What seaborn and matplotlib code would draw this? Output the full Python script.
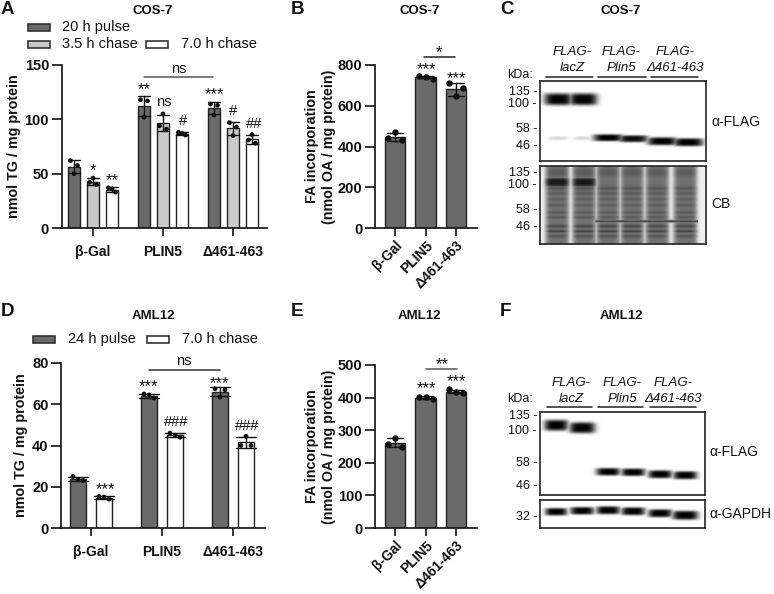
import numpy as np
import pandas as pd
import matplotlib
matplotlib.use('Agg')
import matplotlib.pyplot as plt
from matplotlib.patches import Rectangle
from matplotlib.lines import Line2D
import seaborn as sns

sns.set_theme(style='ticks')
plt.rcParams['font.family'] = ['Liberation Sans', 'DejaVu Sans']
plt.rcParams['axes.linewidth'] = 1.2

W, H = 774, 594
DARK, LIGHT, WHITE = '#6a6a6a', '#c9c9c9', '#ffffff'

groups = ['β-Gal', 'PLIN5', 'Δ461-463']

# Panel A, replicates as left / middle / right dot
a_conditions = ['20 h pulse', '3.5 h chase', '7.0 h chase']
a_pulse = [[62, 50, 57.5], [118, 102, 117], [114, 104, 113]]
a_chase35 = [[42, 46, 40], [94, 105, 91], [97, 85, 93]]
a_chase70 = [[37, 36, 33], [88, 87, 85.5], [81, 86, 78]]
a_ticks = [0, 50, 100, 150]

# Panel B
b_values = [[440, 470, 432], [745, 742, 733], [710, 647, 686]]
b_ticks = [0, 200, 400, 600, 800]

# Panel D
d_conditions = ['24 h pulse', '7.0 h chase']
d_pulse = [[25, 23.5, 23], [65, 64.5, 63], [67.5, 63.5, 67]]
d_chase = [[15.3, 15, 14], [46, 45, 44], [40, 44.5, 40]]
d_ticks = [0, 20, 40, 60, 80]

# Panel E
e_values = [[258, 277, 250], [402, 402, 396], [425, 416, 415]]
e_ticks = [0, 100, 200, 300, 400, 500]

# Blots: lane centres and (lane, y, half width, half height, darkness)
c_lanes = [558, 583, 608, 633, 662, 688]
c_flag_bands = [(0, 99, 14, 6, 1), (1, 99, 14, 6, 1),
                (0, 138, 10, 2, .14), (1, 138, 10, 2, .14),
                (2, 137.5, 15, 3.5, 1), (3, 138.5, 15, 3.5, .95),
                (4, 141, 15, 4, 1), (5, 142, 15, 4, 1)]
c_stain_lanes = [557, 584, 608, 632, 657, 685]
c_stain_bands = [(172, 4, .08), (188, 2, .1), (193, 1.5, .08), (199, 1.5, .08), (205, 1.5, .07),
                 (212, 1.5, .08), (217, 1.2, .1), (226, 1.5, .15), (231, 1.2, .18), (236, 1.5, .1)]
f_lanes = [556, 582, 608, 633, 660, 685]
f_flag_bands = [(0, 425, 12, 5.5, 1), (1, 427.5, 13, 5.5, 1),
                (2, 471.5, 12, 3.8, 1), (3, 472, 12, 3.8, 1),
                (4, 474, 12, 4, 1), (5, 475, 12, 4, 1)]
f_gapdh_bands = [(0, 511.5, 11, 3.8, 1), (1, 510.5, 12, 3.8, 1), (2, 510, 12, 4, 1),
                 (3, 511, 12, 4, 1), (4, 513, 12, 4, 1), (5, 515, 13, 4.5, 1)]


def long_table(names, conditions, series):
    rows = []
    for cond, values in zip(conditions, series):
        for name, reps in zip(names, values):
            for v in reps:
                rows.append({'group': name, 'condition': cond, 'value': v})
    return pd.DataFrame(rows)


def px_axes(left, top, right, bottom):
    return fig.add_axes([left / W, 1 - bottom / H, (right - left) / W, (bottom - top) / H])


def label(x, y, text, size=10, weight='normal', ha='center', va='center', style='normal', color='#111111'):
    fig.text(x / W, 1 - y / H, text, fontsize=size, fontweight=weight, ha=ha, va=va,
             fontstyle=style, color=color)


def sig_marks(marks):
    # stars sit high in their glyph box, so they are pushed down a little
    for text, x, y in marks:
        if '*' in text:
            label(x, y + 3, text, size=12)
        else:
            label(x, y, text, size=10.5)


def bracket(x0, x1, y, color='#555555'):
    fig.add_artist(Line2D([x0 / W, x1 / W], [1 - y / H, 1 - y / H], color=color, lw=1.1))


def legend_item(x0, x1, y, text, text_x, color):
    fig.add_artist(Rectangle((x0 / W, 1 - (y + 3.5) / H), (x1 - x0) / W, 7 / H, facecolor=color,
                             edgecolor='#333333', lw=1.2, transform=fig.transFigure))
    label(text_x, y, text, size=10.5, ha='left')


def spread_dots(ax, fan, scale=1.0):
    # fan the three replicates sideways, the way the original arranges its dots
    for coll in ax.collections:
        offs = np.array(coll.get_offsets())
        if len(offs) == 0:
            continue
        center = np.round(offs[:, 0].mean())
        offs[:, 0] = center + (offs[:, 0] - center) * scale + fan * np.array([-1, 0, 1])[:len(offs)]
        coll.set_offsets(offs)


def style_axes(ax, ticks, ylabel, x0, step, left, right, top_val, pad, rotate=False):
    ax.set_xlim((left - x0) / step, (right - x0) / step)
    ax.set_ylim(0, top_val)
    ax.set_yticks(ticks)
    ax.set_xlabel('')
    ax.set_ylabel(ylabel, fontsize=10.3, fontweight='bold', labelpad=pad, linespacing=1.2, color='#111111')
    sns.despine(ax=ax)
    ax.patch.set_alpha(0)
    for side in ['left', 'bottom']:
        ax.spines[side].set_color('#111111')
    ax.tick_params(axis='y', length=7.5, width=1.2, color='#111111', labelcolor='#111111', pad=1.5)
    ax.tick_params(axis='x', length=6, width=1.2, color='#111111', labelcolor='#111111',
                   pad=1.5 if rotate else 6)
    for t in ax.get_yticklabels():
        t.set_fontsize(10.5)
        t.set_fontweight('bold')
    for t in ax.get_xticklabels():
        t.set_fontsize(10)
        t.set_fontweight('bold')
        if rotate:
            t.set_rotation(45)
            t.set_ha('right')
            t.set_rotation_mode('anchor')


def grouped_panel(ax, df, conditions, colors, width, gap, dot_scale, fan, size):
    palette = dict(zip(conditions, colors))
    sns.barplot(data=df, x='group', y='value', hue='condition', order=groups, hue_order=conditions,
                palette=palette, width=width, gap=gap, edgecolor='#222222', linewidth=1, errorbar='sd',
                capsize=.55, err_kws={'color': '#111111', 'linewidth': 1}, saturation=1, legend=False, ax=ax)
    sns.stripplot(data=df, x='group', y='value', hue='condition', order=groups, hue_order=conditions,
                  palette={c: '#111111' for c in conditions}, dodge=True, jitter=False, size=size,
                  legend=False, ax=ax)
    spread_dots(ax, fan, dot_scale)


def simple_panel(ax, values, fan, size):
    df = long_table(groups, ['all'], [values])
    sns.barplot(data=df, x='group', y='value', order=groups, color=DARK, width=.656, edgecolor='#222222',
                linewidth=1, errorbar='sd', capsize=.5, err_kws={'color': '#111111', 'linewidth': 1},
                saturation=1, ax=ax)
    sns.stripplot(data=df, x='group', y='value', order=groups, color='#111111', jitter=False, size=size, ax=ax)
    spread_dots(ax, fan)


def blot_panel(box, lanes, bands):
    x0, y0, x1, y1 = box
    xs, ys = np.meshgrid(np.arange(x0, x1, .5), np.arange(y0, y1, .5))
    dark = np.zeros_like(xs, dtype=float)
    for lane, y, hw, hh, level in bands:
        blob = level * np.exp(-((xs - lanes[lane]) / hw) ** 4 - ((ys - y) / hh) ** 4)
        dark = np.maximum(dark, blob)
    ax = px_axes(x0, y0, x1, y1)
    ax.imshow(1 - dark, cmap='gray', vmin=0, vmax=1, extent=[x0, x1, y1, y0], aspect='auto')
    finish_blot(ax)


def stain_panel(box, lanes, stain):
    x0, y0, x1, y1 = box
    xs, ys = np.meshgrid(np.arange(x0, x1, .5), np.arange(y0, y1, .5))
    mask = np.zeros_like(xs, dtype=float)
    for cx in lanes:
        mask = np.maximum(mask, np.exp(-((xs - cx) / 12) ** 6))
    profile = np.full_like(ys, .5, dtype=float)
    for y, hh, s in stain:
        profile = profile + s * np.exp(-((ys - y) / hh) ** 2)
    level = .06 + mask * profile
    # continuous Plin5 band on the right four lanes, lacZ band on the left two
    level = np.maximum(level, .75 * np.exp(-((ys - 221) / 1.7) ** 2) * (xs > 595) * (xs < 698))
    for cx in lanes[:2]:
        level = np.maximum(level, .9 * np.exp(-((xs - cx) / 12.5) ** 6 - ((ys - 182) / 5.5) ** 4))
    ax = px_axes(x0, y0, x1, y1)
    ax.imshow(1 - level, cmap='gray', vmin=0, vmax=1, extent=[x0, x1, y1, y0], aspect='auto')
    finish_blot(ax)


def finish_blot(ax):
    ax.set_xticks([])
    ax.set_yticks([])
    for s in ax.spines.values():
        s.set_color('#222222')
        s.set_linewidth(1.2)


def lane_headers(centers, y1, y2, spans, y_line):
    for cx, second in zip(centers, ['lacZ', 'Plin5', 'Δ461-463']):
        label(cx, y1, 'FLAG-', size=9.5, style='italic')
        label(cx, y2, second, size=9.5, style='italic')
    for a, b in spans:
        bracket(a, b, y_line, color='#222222')


fig = plt.figure(figsize=(W / 100, H / 100), dpi=100, facecolor='white')

# A
ax_a = px_axes(61.5, 65, 267, 228)
df_a = long_table(groups, a_conditions, [a_pulse, a_chase35, a_chase70])
grouped_panel(ax_a, df_a, a_conditions, [DARK, LIGHT, WHITE], .814, .37, 1.018, 3.5 / 70, 3.4)
style_axes(ax_a, a_ticks, 'nmol TG / mg protein', 93, 70, 61.5, 267, 150, 2.5)

# B
ax_b = px_axes(375, 65, 477, 228)
simple_panel(ax_b, b_values, 7 / 30.5, 4.6)
style_axes(ax_b, b_ticks, 'FA incorporation\n(nmol OA / mg protein)', 395, 30.5, 375, 477, 800, 1.5, rotate=True)

# D
ax_d = px_axes(61, 363, 265, 528)
df_d = long_table(groups, d_conditions, [d_pulse, d_chase])
grouped_panel(ax_d, df_d, d_conditions, [DARK, WHITE], .732, .35, .915, 5 / 71, 3.4)
style_axes(ax_d, d_ticks, 'nmol TG / mg protein', 91, 71, 61, 265, 80, 3)

# E
ax_e = px_axes(375, 365, 477, 528)
simple_panel(ax_e, e_values, 7 / 30.5, 4.6)
style_axes(ax_e, e_ticks, 'FA incorporation\n(nmol OA / mg protein)', 395, 30.5, 375, 477, 500, 1.5, rotate=True)

# panel letters and titles
for letter, x, y in [('A', 1, 9), ('B', 291, 9), ('C', 500, 9), ('D', 1, 311), ('E', 291, 311), ('F', 500, 311)]:
    label(x, y, letter, size=13.5, weight='bold', ha='left')
for title, x, y in [('COS-7', 153, 11), ('COS-7', 420, 11), ('COS-7', 621, 11),
                    ('AML12', 153, 316), ('AML12', 419, 316), ('AML12', 621, 316)]:
    label(x, y, title, size=9.5, weight='bold')

# legends
legend_item(28, 50, 27, a_conditions[0], 62, DARK)
legend_item(28, 50, 44, a_conditions[1], 62, LIGHT)
legend_item(146, 168, 44, a_conditions[2], 181, WHITE)
legend_item(33, 55, 339, d_conditions[0], 68, DARK)
legend_item(147, 169, 339, d_conditions[1], 182, WHITE)

# significance marks
sig_marks([('**', 144, 87), ('ns', 164, 102), ('#', 183, 121), ('***', 214, 92), ('#', 233, 111),
           ('##', 254, 124), ('*', 93, 168), ('**', 112, 178), ('ns', 179, 69),
           ('***', 426, 67), ('***', 456, 76), ('*', 439, 50),
           ('***', 148, 384), ('###', 176, 422), ('***', 219, 381), ('###', 247, 426), ('***', 105, 487),
           ('ns', 184, 361),
           ('***', 426, 386), ('***', 456, 379), ('**', 442, 362)])
bracket(144, 213, 77)
bracket(424, 455, 57, color='#222222')
bracket(149, 220, 370, color='#333333')
bracket(426, 457, 369)

# C
lane_headers([572, 621, 675], 52, 68, [(546, 593), (598, 646), (651, 698)], 77)
blot_panel((540, 81, 706, 161), c_lanes, c_flag_bands)
stain_panel((540, 166, 706, 244), c_stain_lanes, c_stain_bands)
label(533, 75, 'kDa:', size=9, ha='right')
for text, y in [('135 -', 92), ('100 -', 104), ('58 -', 129), ('46 -', 146),
                ('135 -', 173), ('100 -', 185), ('58 -', 210), ('46 -', 227)]:
    label(537, y, text, size=9, ha='right')
label(711, 122, 'α-FLAG', size=10, ha='left')
label(711, 204, 'CB', size=10, ha='left')

# F
lane_headers([571, 622, 673], 383, 399, [(547, 592), (598, 643), (650, 696)], 407)
blot_panel((540, 412, 705, 495), f_lanes, f_flag_bands)
blot_panel((540, 500, 705, 528), f_lanes, f_gapdh_bands)
label(533, 399, 'kDa:', size=9, ha='right')
for text, y in [('135 -', 416), ('100 -', 431), ('58 -', 463), ('46 -', 486), ('32 -', 517)]:
    label(537, y, text, size=9, ha='right')
label(709, 452, 'α-FLAG', size=10, ha='left')
label(709, 514, 'α-GAPDH', size=10, ha='left')

fig.savefig('out.png', dpi=100)
